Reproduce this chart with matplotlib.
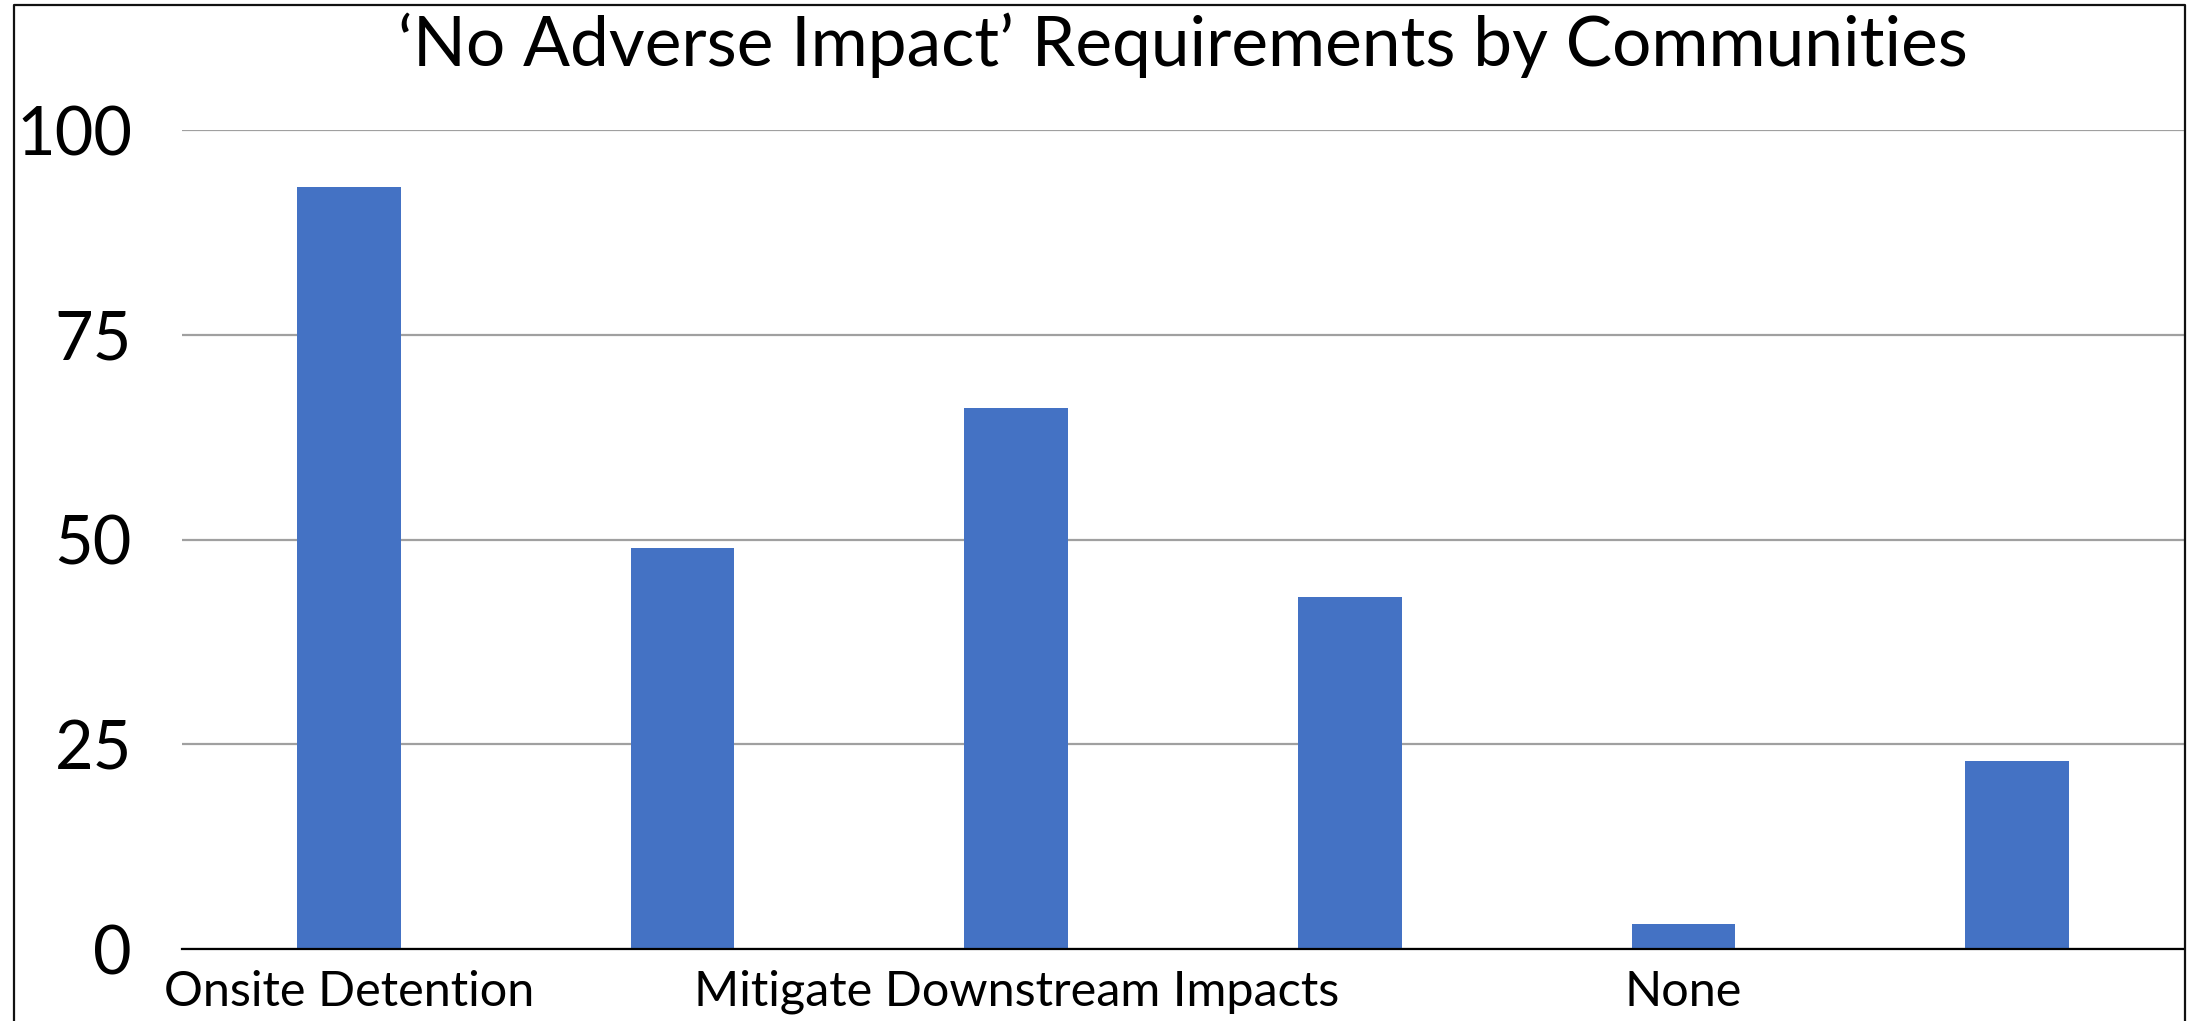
import matplotlib
matplotlib.use("Agg")
import matplotlib.pyplot as plt
from matplotlib.lines import Line2D

plt.rcParams['font.family'] = ['Lato', 'DejaVu Sans']

title = "\u2018No Adverse Impact\u2019 Requirements by Communities"
categories = ["Onsite Detention", "", "Mitigate Downstream Impacts", "", "None", ""]
values = [93, 49, 66, 43, 3, 23]
yticks = [0, 25, 50, 75, 100]

W, H = 2191, 1021
fig = plt.figure(figsize=(W / 100, H / 100), dpi=100)
ax = fig.add_axes([182 / W, 1 - 949 / H, (2184 - 182) / W, (949 - 130) / H])

x = list(range(len(categories)))
ax.bar(x, values, width=0.31, color="#4472C4", zorder=3)
ax.set_xlim(-0.5, len(categories) - 0.5)
ax.set_ylim(0, 100)
ax.set_yticks(yticks)
ax.set_yticklabels([str(v) for v in yticks], fontsize=48)
ax.set_xticks(x)
ax.set_xticklabels(categories, fontsize=35)
ax.tick_params(axis='y', length=0, pad=36)
ax.tick_params(axis='x', length=0, pad=15)
ax.grid(axis='y', color="#A0A0A0", linewidth=1.6, zorder=0)
for s in ['top', 'right', 'left']:
    ax.spines[s].set_visible(False)
ax.spines['bottom'].set_color('black')
ax.spines['bottom'].set_linewidth(1.6)
ax.spines['bottom'].set_zorder(4)

fig.text((182 + 2184) / 2 / W, 1 - 12 / H, title, ha='center', va='top', fontsize=50)

# chart-area border (left, top, right)
bx0, bx1, by = 14 / W, 2185 / W, 1 - 5 / H
fig.add_artist(Line2D([bx0, bx0, bx1, bx1], [0, by, by, 0], transform=fig.transFigure,
                      color='#111111', linewidth=1.6))

fig.savefig("out.png", dpi=100)
